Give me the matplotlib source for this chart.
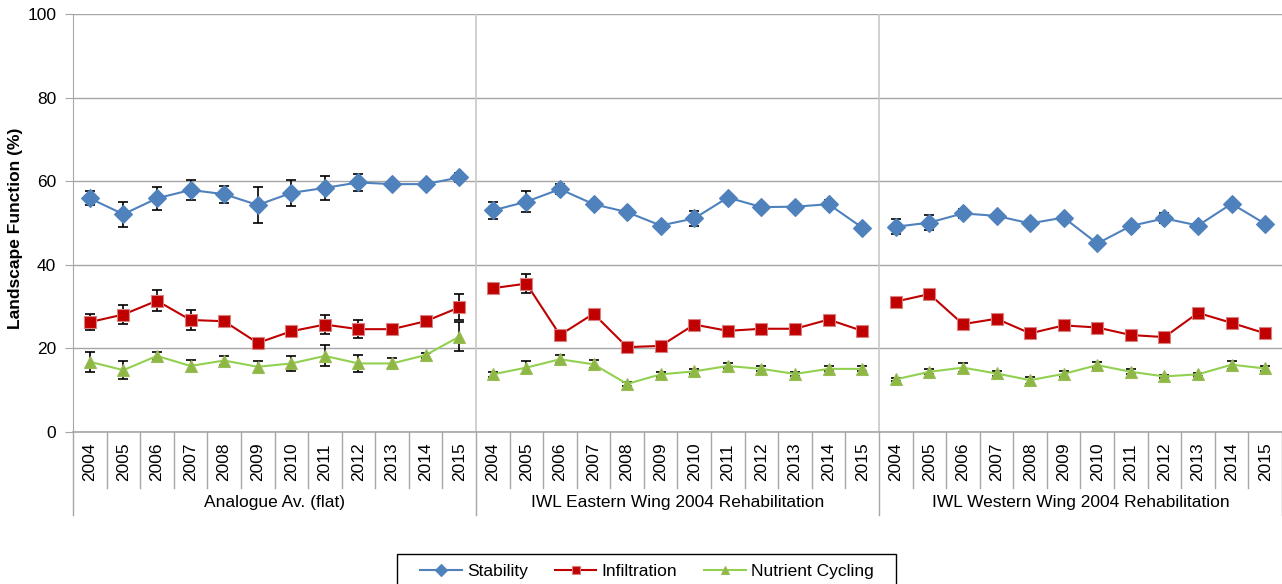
import numpy as np
import matplotlib
matplotlib.use("Agg")
import matplotlib.pyplot as plt
from matplotlib.patches import Rectangle

plt.rcParams['font.family'] = ['Liberation Sans', 'DejaVu Sans']

years = [str(y) for y in range(2004, 2016)]
groups = ["Analogue Av. (flat)", "IWL Eastern Wing 2004 Rehabilitation",
          "IWL Western Wing 2004 Rehabilitation"]

# values per group (12 years each)
stability = [
    [55.9, 52.1, 55.9, 57.9, 56.9, 54.3, 57.2, 58.4, 59.7, 59.3, 59.3, 60.9],
    [53.0, 55.1, 58.1, 54.5, 52.6, 49.4, 51.1, 56.1, 53.8, 53.9, 54.5, 48.9],
    [49.1, 50.1, 52.3, 51.7, 49.9, 51.3, 45.1, 49.3, 51.1, 49.4, 54.6, 49.8],
]
stability_err = [
    [1.7, 3.0, 2.7, 2.4, 2.0, 4.2, 3.1, 2.8, 2.0, 0.7, 0.3, 1.0],
    [2.0, 2.5, 1.2, 0.8, 0.4, 0.6, 1.7, 0.4, 0.4, 0.4, 1.0, 0.8],
    [1.8, 1.7, 1.0, 0.8, 0.4, 0.4, 0.4, 0.4, 1.2, 0.4, 0.4, 0.4],
]
infiltration = [
    [26.3, 28.1, 31.4, 26.8, 26.5, 21.3, 24.1, 25.7, 24.6, 24.6, 26.5, 29.8],
    [34.4, 35.5, 23.2, 28.3, 20.3, 20.6, 25.7, 24.2, 24.7, 24.7, 26.9, 24.2],
    [31.2, 33.0, 25.8, 27.1, 23.6, 25.5, 25.0, 23.2, 22.7, 28.5, 26.1, 23.6],
]
infiltration_err = [
    [1.9, 2.3, 2.5, 2.3, 0.8, 0.5, 0.5, 2.2, 2.2, 0.6, 0.5, 3.1],
    [0.5, 2.2, 0.5, 1.0, 0.4, 0.4, 0.5, 0.4, 0.4, 0.4, 1.0, 0.4],
    [0.4, 0.4, 0.4, 0.5, 0.4, 0.4, 0.4, 0.4, 0.4, 0.4, 0.4, 0.4],
]
nutrient = [
    [16.8, 14.8, 18.2, 15.8, 17.1, 15.6, 16.4, 18.2, 16.4, 16.4, 18.4, 22.8],
    [13.8, 15.4, 17.4, 16.2, 11.5, 13.8, 14.5, 15.8, 15.1, 13.9, 15.1, 15.1],
    [12.6, 14.4, 15.4, 14.0, 12.4, 13.9, 16.0, 14.4, 13.3, 13.8, 16.1, 15.2],
]
nutrient_err = [
    [2.4, 2.1, 1.0, 1.5, 1.0, 1.4, 1.9, 2.5, 2.0, 1.2, 0.6, 3.4],
    [0.6, 1.5, 1.0, 1.0, 0.4, 0.6, 0.6, 0.6, 0.6, 0.4, 0.6, 0.6],
    [0.4, 0.6, 1.0, 0.6, 0.8, 0.8, 0.8, 0.6, 0.4, 0.4, 1.0, 0.6],
]

series = [
    ("Stability", stability, stability_err, "#4F81BD", "#4F81BD", "#4F81BD", "D", 9.5),
    ("Infiltration", infiltration, infiltration_err, "#C00000", "#C00000", "#D98080", "s", 8.5),
    ("Nutrient Cycling", nutrient, nutrient_err, "#92D050", "#8DB843", "#9BBB59", "^", 9),
]

fs = 12.5
fig = plt.figure(figsize=(12.82, 5.84), dpi=100)
ax = fig.add_axes([73 / 1282, 152 / 584, 1209 / 1282, 418 / 584])

n = len(years)
for name, vals, errs, lc, fc, ec, mk, ms in series:
    for g in range(len(groups)):
        x = np.arange(n) + g * n
        ax.errorbar(x, vals[g], yerr=errs[g], fmt="none", ecolor="black",
                    elinewidth=1.2, capsize=3.5, capthick=1.2, zorder=2)
        ax.plot(x, vals[g], color=lc, lw=1.5, marker=mk, ms=ms,
                mfc=fc, mec=ec, mew=0.8, zorder=3,
                label=name if g == 0 else None)

total = n * len(groups)
ax.set_xlim(-0.5, total - 0.5)
ax.set_ylim(0, 100)
ax.set_yticks(range(0, 101, 20))
ax.yaxis.grid(True, color="#A6A6A6", lw=1.0)
ax.set_axisbelow(True)
for g in range(1, len(groups)):
    ax.axvline(g * n - 0.5, color="#C8C8C8", lw=1.2, zorder=1)

for s in ["top", "right", "bottom"]:
    ax.spines[s].set_visible(False)
ax.spines["left"].set_color("#A6A6A6")
ax.tick_params(axis="y", length=6, color="#A6A6A6", labelsize=fs, pad=6)
ax.set_xticks([])
fig.text(16 / 1282, 1 - 228 / 584, "Landscape Function (%)", rotation=90,
         ha="center", va="center", fontsize=fs, fontweight="bold")

# multi-level category axis
tr = ax.get_xaxis_transform()
ax.plot([-0.5, total - 0.5], [0, 0], color="#A6A6A6", lw=1.2, transform=tr, clip_on=False)
year_depth = -(488 - 432) / 418
group_depth = -(515 - 432) / 418
for k in range(total + 1):
    depth = group_depth if k % n == 0 else year_depth
    ax.plot([k - 0.5, k - 0.5], [0, depth], color="#A6A6A6", lw=1.0,
            transform=tr, clip_on=False)
for k in range(total):
    ax.text(k, -(462 - 432) / 418, years[k % n], rotation=90, ha="center",
            va="center", fontsize=fs, transform=tr)
for g, name in enumerate(groups):
    ax.text(g * n + (n - 1) / 2, -(503 - 432) / 418, name, ha="center",
            va="center", fontsize=fs, transform=tr)

leg = fig.legend(loc="center", bbox_to_anchor=(647 / 1282, 1 - 571 / 584),
                 ncol=3, fontsize=fs, frameon=False, borderpad=0,
                 handlelength=2.4, columnspacing=1.55, handletextpad=0.3,
                 markerscale=0.6, borderaxespad=0)
fig.patches.append(Rectangle((397 / 1282, -0.02), (896 - 397) / 1282, 0.02 + 30 / 584,
                             transform=fig.transFigure, fill=False,
                             edgecolor="black", lw=1.0))

fig.savefig("out.png", dpi=100)
